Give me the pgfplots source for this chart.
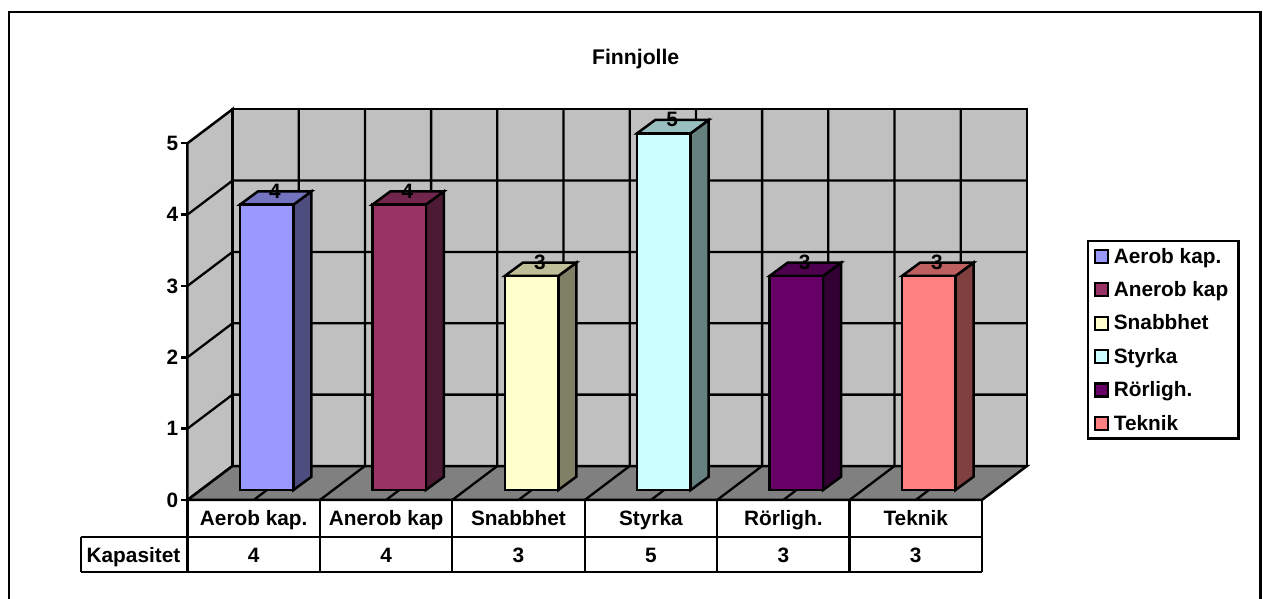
\documentclass[border=0pt]{standalone}
\usepackage{fontspec}
\setmainfont{Liberation Sans}
\usepackage{pgfplots}
\pgfplotsset{compat=1.18}
\definecolor{gridgrey}{HTML}{C0C0C0}
\definecolor{floorgrey}{HTML}{808080}
\definecolor{cA}{HTML}{9999FF}\definecolor{tA}{HTML}{7373BF}\definecolor{sA}{HTML}{4D4D80}
\definecolor{cB}{HTML}{993366}\definecolor{tB}{HTML}{73264D}\definecolor{sB}{HTML}{4D1A33}
\definecolor{cC}{HTML}{FFFFCC}\definecolor{tC}{HTML}{BFBF99}\definecolor{sC}{HTML}{808066}
\definecolor{cD}{HTML}{CCFFFF}\definecolor{tD}{HTML}{99BFBF}\definecolor{sD}{HTML}{668080}
\definecolor{cE}{HTML}{660066}\definecolor{tE}{HTML}{4D004D}\definecolor{sE}{HTML}{330033}
\definecolor{cF}{HTML}{FF8080}\definecolor{tF}{HTML}{BF6060}\definecolor{sF}{HTML}{804040}
\newcommand\chartfont{\fontsize{20.8}{24}\selectfont\bfseries}
\newcommand\titlefont{\fontsize{21.2}{25}\selectfont\bfseries}
% One 3-D column: category index, value, letter of its colour triple
\newcommand\column[3]{%
  \pgfmathsetmacro\xa{#1+0.3965}%
  \pgfmathsetmacro\xb{#1+0.8005}%
  \pgfmathsetmacro\xc{#1+0.9365}%
  \pgfmathsetmacro\xd{#1+0.5325}%
  \pgfmathsetmacro\ya{0.14}%
  \pgfmathsetmacro\yb{0.326}%
  \pgfmathsetmacro\ta{#2+0.14}%
  \pgfmathsetmacro\tb{#2+0.326}%
  \pgfmathsetmacro\xl{#1+0.661}%
  \pgfmathsetmacro\yl{#2+0.23}%
  \edef\faces{%
    \noexpand\addplot[forget plot,draw=black,line width=2.5pt,fill=s#3] coordinates {(\xb,\ya) (\xc,\yb) (\xc,\tb) (\xb,\ta)} -- cycle;
    \noexpand\addplot[forget plot,draw=black,line width=2.5pt,fill=t#3] coordinates {(\xa,\ta) (\xb,\ta) (\xc,\tb) (\xd,\tb)} -- cycle;
    \noexpand\addplot[draw=black,line width=2.5pt,fill=c#3] coordinates {(\xa,\ya) (\xb,\ya) (\xb,\ta) (\xa,\ta)} -- cycle;
    \noexpand\node[anchor=base,font=\noexpand\chartfont,inner sep=0pt] at (axis cs:\xl,\yl) {#2};
  }%
  \faces
}
\begin{document}
\begin{tikzpicture}
\useasboundingbox (-187.5pt,-99pt) rectangle (1075.5pt,500pt);
% Chart frame, open at the lower edge
\draw[line width=2.6pt] (-178.5pt,-99pt) -- (-178.5pt,488pt) -- (1073.2pt,488pt) -- (1073.2pt,-99pt);
\begin{axis}[
  at={(0,0)}, anchor=south west,
  x=132.4pt, y=71.35pt,
  xmin=0, xmax=6, ymin=0, ymax=5,
  clip=false,
  axis lines=left,
  axis line style={-,line width=2.5pt},
  ytick={0,1,2,3,4,5},
  y tick style={black,line width=2.5pt},
  major tick length=6pt,
  tick align=outside,
  yticklabel style={font=\chartfont,/pgf/number format/assume math mode=true,inner sep=3.2pt},
  xtick={0.5,1.5,2.5,3.5,4.5,5.5},
  xticklabels={Aerob kap.,Anerob kap,Snabbhet,Styrka,Rörligh.,Teknik},
  x tick style={draw=none},
  xticklabel style={font=\chartfont,anchor=base,yshift=-20pt,inner sep=0pt},
  legend cell align=left,
  legend style={
    at={(axis cs:6.793,3.645)}, anchor=north west,
    draw=black, line width=2.5pt, font=\chartfont,
    inner xsep=5.5pt, inner ysep=5pt, row sep=12.8pt,
    /tikz/every even column/.append style={column sep=3pt},
    nodes={inner xsep=4.5pt},
    legend image code/.code={\draw[#1,line width=2.2pt] (-2pt,-6.5pt) rectangle (11.5pt,6.5pt);}
  },
  legend entries={Aerob kap.,Anerob kap,Snabbhet,Styrka,Rörligh.,Teknik},
]
% Walls and floor
\addplot[forget plot,draw=black,line width=2.5pt,fill=gridgrey] coordinates {(0,0) (0.34,0.4765) (0.34,5.4765) (0,5)} -- cycle;
\addplot[forget plot,draw=black,line width=2.5pt,fill=gridgrey] coordinates {(0.34,0.4765) (6.34,0.4765) (6.34,5.4765) (0.34,5.4765)} -- cycle;
\addplot[forget plot,draw=black,line width=2.5pt,fill=floorgrey] coordinates {(0,0) (6,0) (6.34,0.4765) (0.34,0.4765)} -- cycle;
% Gridlines on the walls
\pgfplotsinvokeforeach{1,2,3,4}{
  \draw[line width=2.3pt] (axis cs:0,#1) -- (axis cs:0.34,{#1+0.4765}) -- (axis cs:6.34,{#1+0.4765});
}
\pgfplotsinvokeforeach{1,...,11}{
  \draw[line width=2.3pt] (axis cs:{#1*0.5},0) -- (axis cs:{#1*0.5+0.34},0.4765) -- (axis cs:{#1*0.5+0.34},5.4765);
}
% Columns
\column{0}{4}{A}
\column{1}{4}{B}
\column{2}{3}{C}
\column{3}{5}{D}
\column{4}{3}{E}
\column{5}{3}{F}
% Title
\node[anchor=base,font=\titlefont,inner sep=0pt] at (axis cs:3.385,6.11) {Finnjolle};
% Data table beneath the floor
\draw[line width=2.3pt] (axis cs:0,0) -- (axis cs:0,-1.013) (axis cs:-0.8066,-0.5186) -- (axis cs:6,-0.5186)
  (axis cs:-0.8066,-1.013) -- (axis cs:6,-1.013) (axis cs:-0.8066,-0.5186) -- (axis cs:-0.8066,-1.013);
\pgfplotsinvokeforeach{1,...,6}{
  \draw[line width=2.3pt] (axis cs:#1,0) -- (axis cs:#1,-1.013);
}
\node[anchor=base,font=\chartfont,inner sep=0pt] at (axis cs:-0.408,-0.88) {Kapasitet};
\node[anchor=base,font=\chartfont,inner sep=0pt] at (axis cs:0.5,-0.88) {4};
\node[anchor=base,font=\chartfont,inner sep=0pt] at (axis cs:1.5,-0.88) {4};
\node[anchor=base,font=\chartfont,inner sep=0pt] at (axis cs:2.5,-0.88) {3};
\node[anchor=base,font=\chartfont,inner sep=0pt] at (axis cs:3.5,-0.88) {5};
\node[anchor=base,font=\chartfont,inner sep=0pt] at (axis cs:4.5,-0.88) {3};
\node[anchor=base,font=\chartfont,inner sep=0pt] at (axis cs:5.5,-0.88) {3};
\end{axis}
\end{tikzpicture}
\end{document}
